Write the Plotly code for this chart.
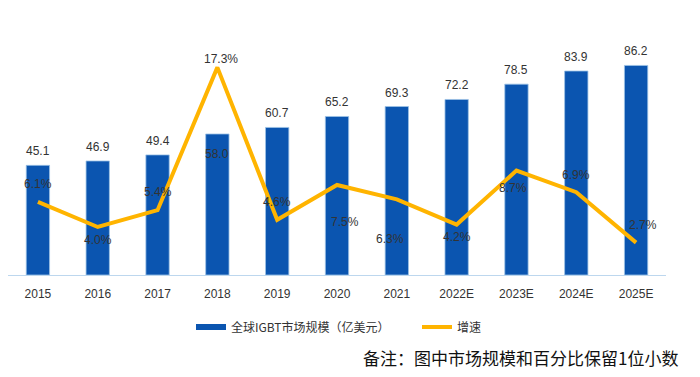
import plotly.graph_objects as go

categories = ["2015", "2016", "2017", "2018", "2019", "2020", "2021", "2022E", "2023E", "2024E", "2025E"]
market_size = [45.1, 46.9, 49.4, 58.0, 60.7, 65.2, 69.3, 72.2, 78.5, 83.9, 86.2]
growth = [6.1, 4.0, 5.4, 17.3, 4.6, 7.5, 6.3, 4.2, 8.7, 6.9, 2.7]

bar_name = "全球IGBT市场规模（亿美元）"
line_name = "增速"
note_text = "备注：图中市场规模和百分比保留1位小数"

# label placement styling (pixels)
bar_label_shift = [14, 14, 14, -20, 14, 14, 14, 14, 14, 14, 14]
pct_yshift = [18, -13, 18, 8, 18, -37, -40, -12, -17, 17, 18]
pct_xshift = [0, 0, 0, 4, 0, 8, -7, 0, -3, 0, 7]

BLUE = "#0B55B0"
ORANGE = "#FFB400"
TEXT = "#333333"
FONT = "Liberation Sans, Arial, sans-serif"
CJK = "Noto Sans CJK SC, sans-serif"

# page body has an 8px margin; figure sized to fit the 700x377 window
OFF = 8
W, H = 700 - 2 * OFF, 377 - 2 * OFF
# desired plot area in window pixels
PX0, PX1, PY0, PY1 = 8, 666, 10, 275
L = PX0 - OFF
R = W - (PX1 - OFF)
T = PY0 - OFF
B = H - (PY1 - OFF)
pw = PX1 - PX0
ph = PY1 - PY0


def px_to_paper_x(px):
    return (px - PX0) / pw


def px_to_paper_y(py):
    return (PY1 - py) / ph


fig = go.Figure()
fig.add_trace(go.Bar(
    x=categories, y=market_size, name=bar_name,
    marker=dict(color=BLUE, line=dict(color="#9DC3E6", width=0.8)),
    width=0.39, showlegend=False, hoverinfo="skip",
))
# legend proxy for bars (wide flat swatch)
fig.add_trace(go.Scatter(
    x=[None], y=[None], mode="lines", name=bar_name,
    line=dict(color=BLUE, width=6), showlegend=True,
))
fig.add_trace(go.Scatter(
    x=categories, y=growth, name=line_name, mode="lines", yaxis="y2",
    line=dict(color=ORANGE, width=4), showlegend=True,
))

annotations = []
for i, v in enumerate(market_size):
    annotations.append(dict(
        x=i, y=v, xref="x", yref="y", text=f"{v:.1f}", showarrow=False,
        yanchor="middle", yshift=bar_label_shift[i],
        font=dict(family=FONT, size=12, color=TEXT),
    ))
for i, g in enumerate(growth):
    annotations.append(dict(
        x=i, y=g, xref="x", yref="y2", text=f"{g:.1f}%", showarrow=False,
        yanchor="middle", yshift=pct_yshift[i], xshift=pct_xshift[i],
        font=dict(family=FONT, size=12, color=TEXT),
    ))
annotations.append(dict(
    x=px_to_paper_x(680), y=px_to_paper_y(357), xref="paper", yref="paper",
    xanchor="right", yanchor="middle",
    text=note_text, showarrow=False,
    font=dict(family=CJK, size=17, color="#111111"),
))

fig.update_layout(
    width=W, height=H,
    margin=dict(l=L, r=R, t=T, b=B, autoexpand=False),
    paper_bgcolor="white", plot_bgcolor="white",
    font=dict(family=FONT, size=12, color=TEXT),
    xaxis=dict(
        type="category", range=[-0.5, 10.5], showgrid=False, zeroline=False,
        showline=True, linecolor="#BDD7EE", linewidth=1, ticks="",
        tickfont=dict(family=FONT, size=12, color=TEXT), ticklabelstandoff=8,
    ),
    yaxis=dict(range=[0, 109], visible=False, showgrid=False, zeroline=False),
    yaxis2=dict(range=[0, 22.08], overlaying="y", side="right", visible=False,
                showgrid=False, zeroline=False),
    legend=dict(
        orientation="h", x=px_to_paper_x(191), xanchor="left",
        y=px_to_paper_y(327), yanchor="middle",
        font=dict(family=CJK, size=12, color=TEXT),
        entrywidth=181, entrywidthmode="pixels",
        bgcolor="rgba(0,0,0,0)",
    ),
    annotations=annotations,
)

fig.write_html("out.html")
